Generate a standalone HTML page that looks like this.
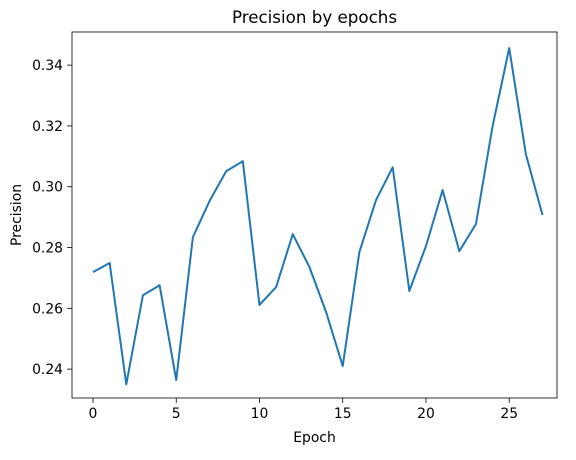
<!DOCTYPE html>
<html><head><meta charset="utf-8"><style>
body{margin:0;background:#fff;font-family:"Liberation Sans","DejaVu Sans",sans-serif;}
svg text{font-family:"DejaVu Sans","Liberation Sans",sans-serif;fill:#000;}
</style></head><body>
<svg id="chart" width="576" height="455"></svg>
<script>
const epochs = [0,1,2,3,4,5,6,7,8,9,10,11,12,13,14,15,16,17,18,19,20,21,22,23,24,25,26,27];
const precision = [0.2719,0.2749,0.2350,0.2643,0.2676,0.2364,0.2834,0.2953,0.3051,0.3084,0.2611,0.2670,0.2844,0.2736,0.2588,0.2410,0.2785,0.2956,0.3064,0.2657,0.2805,0.2989,0.2788,0.2877,0.3199,0.3456,0.3107,0.2907];
const xTicks = [0,5,10,15,20,25];
const yTicks = [0.24,0.26,0.28,0.30,0.32,0.34];

const L=72,R=557,T=32,B=398;
const xMin=-1.26,xMax=27.87,yMin=0.2305,yMax=0.3509;
const sx=v=>L+(v-xMin)/(xMax-xMin)*(R-L);
const sy=v=>B-(v-yMin)/(yMax-yMin)*(B-T);
const NS="http://www.w3.org/2000/svg";
const svg=document.getElementById('chart');
function mk(tag,attrs,text){const e=document.createElementNS(NS,tag);for(const k in attrs)e.setAttribute(k,attrs[k]);if(text!==undefined)e.textContent=text;svg.appendChild(e);return e;}

const frame=mk('rect',{x:L,y:T,width:R-L,height:B-T,fill:'none',stroke:'#000','stroke-width':0.8});



xTicks.forEach(t=>{
  const x=sx(t);
  const tk=mk('line',{x1:x,x2:x,y1:B,y2:B+4.9,stroke:'#000','stroke-width':0.8});
  
  
  const lb=mk('text',{x:x,y:B+20,'font-size':13.9,'text-anchor':'middle'},String(t));
  
  
});
yTicks.forEach(t=>{
  const y=sy(t);
  const tk=mk('line',{x1:L-4.9,x2:L,y1:y,y2:y,stroke:'#000','stroke-width':0.8});
  
  
  const lb=mk('text',{x:L-9,y:y+5,'font-size':13.9,'text-anchor':'end'},t.toFixed(2));
  
  
});

const pts=epochs.map((e,i)=>sx(e).toFixed(2)+','+sy(precision[i]).toFixed(2)).join(' ');
const line=mk('polyline',{points:pts,fill:'none',stroke:'#1f77b4','stroke-width':2,'stroke-linejoin':'round'});



const title=mk('text',{x:(L+R)/2,y:T-9,'font-size':16.7,'text-anchor':'middle'},'Precision by epochs');


const xl=mk('text',{x:(L+R)/2,y:442,'font-size':13.9,'text-anchor':'middle'},'Epoch');


const yl=mk('text',{x:0,y:0,'font-size':13.9,'text-anchor':'middle',transform:`translate(21,${(T+B)/2}) rotate(-90)`},'Precision');


</script>
</body></html>
